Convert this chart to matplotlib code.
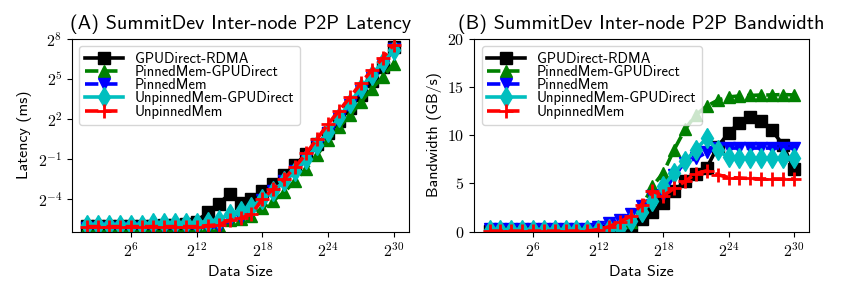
"""
SummitDev inter-node P2P latency and bandwidth vs. data size.
Output: out.png
"""
import numpy as np
import matplotlib
matplotlib.use("Agg")
import matplotlib.pyplot as plt
from matplotlib.ticker import FuncFormatter, NullLocator

plt.rcParams["font.family"] = ["cmss10", "DejaVu Sans"]
plt.rcParams["mathtext.fontset"] = "cm"
plt.rcParams["axes.unicode_minus"] = False

# data sizes 2^2 .. 2^30
data_size = [2.0 ** k for k in range(2, 31)]

labels = ["GPUDirect-RDMA", "PinnedMem-GPUDirect", "PinnedMem",
          "UnpinnedMem-GPUDirect", "UnpinnedMem"]

# latency, log2(ms)
lat_rdma = [-6.05, -6.05, -6.05, -6.05, -6.05, -6.05, -6.0, -5.95, -5.95, -5.9,
            -5.7, -5.0, -4.35, -3.65, -4.3, -4.0, -3.45, -2.9, -2.2, -1.45,
            -0.65, 0.1, 0.9, 1.85, 2.8, 3.8, 4.85, 5.85, 7.4]
lat_pinned_gd = [-6.1, -6.1, -6.1, -6.1, -6.1, -6.1, -6.1, -6.1, -6.1, -6.1,
                 -6.1, -6.05, -6.0, -5.6, -5.5, -5.25, -4.68, -4.13, -3.5, -2.63,
                 -1.75, -0.7, 0.37, 1.37, 2.25, 3.25, 4.25, 5.12, 6.12]
lat_pinned = [-6.15, -6.15, -6.15, -6.15, -6.15, -6.15, -6.15, -6.15, -6.15, -6.15,
              -6.15, -6.12, -6.1, -5.6, -5.4, -5.0, -4.1, -3.4, -2.7, -1.9,
              -1.05, -0.05, 0.95, 1.95, 3.0, 4.05, 5.05, 6.05, 7.25]
lat_unpinned_gd = [-5.95, -5.95, -5.95, -5.95, -5.95, -5.95, -5.8, -5.8, -5.8, -5.8,
                   -5.8, -5.7, -5.55, -5.15, -4.9, -4.6, -4.0, -3.4, -2.7, -1.9,
                   -1.0, 0.0, 1.0, 2.1, 3.2, 4.3, 5.3, 6.25, 7.12]
lat_unpinned = [-6.08, -6.08, -6.08, -6.08, -6.08, -6.08, -6.08, -6.08, -6.08, -6.08,
                -6.08, -6.0, -5.95, -5.6, -5.45, -5.15, -4.0, -3.25, -2.5, -1.6,
                -0.6, 0.5, 1.6, 2.6, 3.6, 4.65, 5.65, 6.55, 7.55]

# bandwidth, GB/s
bw_rdma = [0.05, 0.05, 0.05, 0.05, 0.05, 0.05, 0.05, 0.05, 0.05, 0.05,
           0.05, 0.05, 0.05, 0.25, 1.3, 2.0, 3.0, 4.2, 5.2, 6.0,
           6.6, 8.8, 10.2, 11.3, 11.9, 11.5, 10.5, 9.0, 6.5]
bw_pinned_gd = [0.2, 0.2, 0.2, 0.2, 0.2, 0.2, 0.2, 0.2, 0.2, 0.2,
                0.2, 0.2, 0.3, 1.0, 2.5, 4.7, 6.1, 8.5, 10.6, 12.1,
                13.0, 13.6, 13.95, 14.05, 14.1, 14.15, 14.15, 14.2, 14.15]
bw_pinned = [0.3, 0.3, 0.3, 0.3, 0.3, 0.3, 0.3, 0.3, 0.3, 0.3,
             0.5, 0.9, 1.2, 1.8, 2.6, 3.7, 3.8, 5.9, 7.1, 7.6,
             8.2, 8.65, 8.65, 8.65, 8.65, 8.65, 8.65, 8.65, 8.65]
bw_unpinned_gd = [0.2, 0.2, 0.2, 0.2, 0.2, 0.2, 0.2, 0.2, 0.2, 0.2,
                  0.2, 0.3, 0.4, 1.1, 2.0, 3.2, 4.7, 6.1, 7.3, 8.5,
                  9.7, 8.4, 7.7, 7.6, 7.6, 7.6, 7.6, 7.6, 7.6]
bw_unpinned = [0.05, 0.05, 0.05, 0.05, 0.05, 0.05, 0.05, 0.05, 0.05, 0.05,
               0.2, 0.5, 1.0, 1.6, 2.8, 4.2, 3.7, 4.5, 5.2, 6.0,
               6.3, 5.9, 5.6, 5.55, 5.5, 5.45, 5.45, 5.45, 5.45]

latency = [lat_rdma, lat_pinned_gd, lat_pinned, lat_unpinned_gd, lat_unpinned]
bandwidth = [bw_rdma, bw_pinned_gd, bw_pinned, bw_unpinned_gd, bw_unpinned]

styles = [
    dict(color="k", marker="s", linestyle="-", markersize=8.5),
    dict(color="g", marker="^", linestyle="--", markersize=9),
    dict(color="b", marker="v", linestyle="--", markersize=9),
    dict(color="c", marker="d", linestyle="-", markersize=10),
    dict(color="r", marker="+", linestyle="--", markersize=10, markeredgewidth=2),
]

fig = plt.figure(figsize=(8.47, 2.92), dpi=100)
ax1 = fig.add_axes([0.085, 0.207, 0.398, 0.661])
ax2 = fig.add_axes([0.560, 0.207, 0.395, 0.661])

for vals, lab, st in zip(latency, labels, styles):
    ax1.plot(data_size, np.power(2.0, vals), label=lab, linewidth=2.6, **st)
for vals, lab, st in zip(bandwidth, labels, styles):
    ax2.plot(data_size, vals, label=lab, linewidth=2.6, **st)

pow2 = FuncFormatter(lambda v, p: r"$2^{%d}$" % round(np.log2(v)))
for ax in (ax1, ax2):
    ax.set_xscale("log", base=2)
    ax.set_xticks([2.0 ** k for k in (6, 12, 18, 24, 30)])
    ax.xaxis.set_major_formatter(pow2)
    ax.xaxis.set_minor_locator(NullLocator())
    ax.set_xlabel("Data Size", fontsize=11.5)
    ax.tick_params(labelsize=11.5)
    ax.legend(loc="upper left", fontsize=10.5, labelspacing=-0.05,
              handlelength=2.6, borderpad=0.4, framealpha=0.8)

ax1.set_yscale("log", base=2)
ax1.set_ylim(2.0 ** -6.45, 2.0 ** 8)
ax1.set_yticks([2.0 ** k for k in (-4, -1, 2, 5, 8)])
ax1.yaxis.set_major_formatter(pow2)
ax1.yaxis.set_minor_locator(NullLocator())
ax1.set_ylabel("Latency (ms)", fontsize=11.5)
ax1.set_title("(A) SummitDev Inter-node P2P Latency", fontsize=14.5, pad=7)

ax2.set_ylim(0, 20)
ax2.set_yticks([0, 5, 10, 15, 20])
ax2.yaxis.set_major_formatter(FuncFormatter(lambda v, p: r"$%d$" % v))
ax2.set_ylabel("Bandwidth (GB/s)", fontsize=11.5)
ax2.set_title("(B) SummitDev Inter-node P2P Bandwidth", fontsize=14.5, pad=7)

fig.savefig("out.png", dpi=100)
